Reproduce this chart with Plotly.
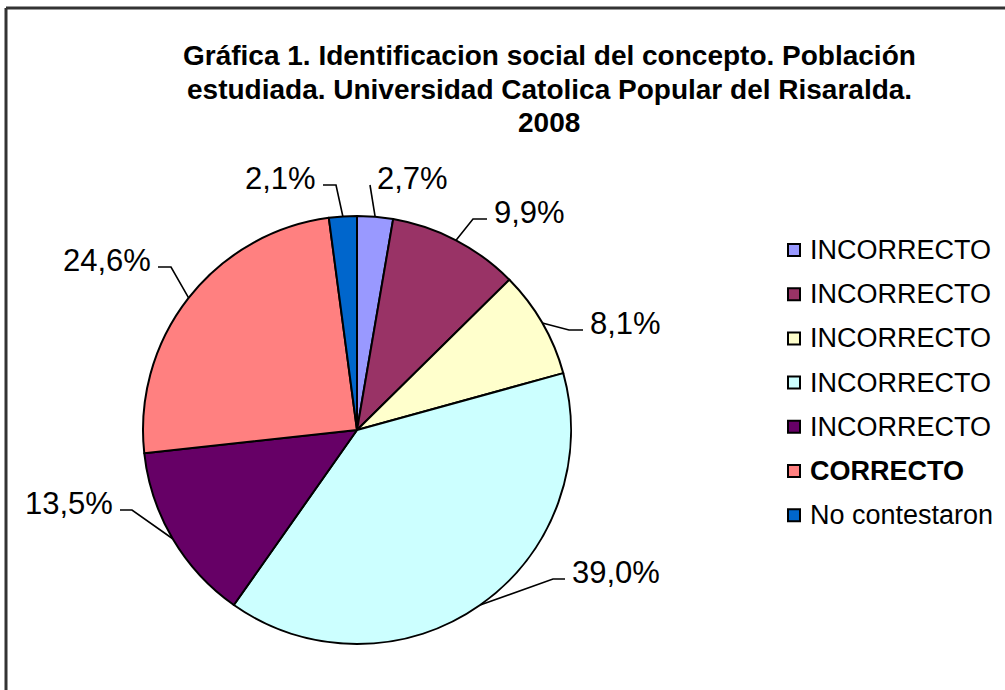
import math
import plotly.graph_objects as go

# Datos
etiquetas = ["INCORRECTO", "INCORRECTO", "INCORRECTO", "INCORRECTO",
             "INCORRECTO", "CORRECTO", "No contestaron"]
valores = [2.7, 9.9, 8.1, 39.0, 13.5, 24.6, 2.1]
colores = ["#9999FF", "#993366", "#FFFFCC", "#CCFFFF", "#660066", "#FF8080", "#0066CC"]
titulo = ["Gráfica 1. Identificacion social del concepto. Población",
          "estudiada. Universidad Catolica Popular del Risaralda.",
          "2008"]

# Posicion de las etiquetas de porcentaje (px) y lado del texto
pos_etiquetas = [(375, 178, "left"), (492, 212, "left"), (588, 323, "left"),
                 (570, 572, "left"), (115, 503, "right"), (153, 260, "right"),
                 (318, 178, "right")]
cola = [0, 14, 14, 12, 12, 13, 13]

W, H = 1005, 690
CX, CY, R = 357, 430, 214
FUENTE = "Liberation Sans, Arial, sans-serif"

fig = go.Figure()

# Torta
fig.add_trace(go.Pie(
    labels=[f"{e} {i}" for i, e in enumerate(etiquetas)],
    values=valores,
    sort=False,
    direction="clockwise",
    rotation=0,
    textinfo="none",
    hoverinfo="skip",
    marker=dict(colors=colores, line=dict(color="black", width=2)),
    domain=dict(x=[(CX - R) / W, (CX + R) / W], y=[1 - (CY + R) / H, 1 - (CY - R) / H]),
    showlegend=False,
))

# Lineas guia y etiquetas
total = sum(valores)
acum = 0
lx, ly = [], []
for i, (v, (tx, ty, lado)) in enumerate(zip(valores, pos_etiquetas)):
    ang = math.radians((acum + v / 2) / total * 360)
    acum += v
    ex, ey = CX + R * math.sin(ang), CY - R * math.cos(ang)
    signo = -1 if lado == "left" else 1
    fx, fy = tx + signo * 5, ty + 7
    cx_ = fx + signo * cola[i]
    lx += [ex, cx_, fx, None]
    ly += [ey, fy, fy, None]
    fig.add_annotation(x=tx, y=ty, xref="x", yref="y", showarrow=False,
                       text=f"{v:.1f}".replace(".", ",") + "%",
                       xanchor=lado, yanchor="middle",
                       font=dict(family=FUENTE, size=31, color="black"))

fig.add_trace(go.Scatter(x=lx, y=ly, mode="lines", line=dict(color="black", width=1.6),
                         hoverinfo="skip", showlegend=False))

# Leyenda manual
ley_y = [250 + i * 44.2 for i in range(len(etiquetas))]
fig.add_trace(go.Scatter(
    x=[794] * len(etiquetas), y=ley_y, mode="markers",
    marker=dict(symbol="square", size=12, color=colores, line=dict(color="black", width=2)),
    hoverinfo="skip", showlegend=False))
for e, yy in zip(etiquetas, ley_y):
    txt = f"<b>{e}</b>" if e == "CORRECTO" else e
    fig.add_annotation(x=808, y=yy, xref="x", yref="y", showarrow=False, text=txt,
                       xanchor="left", yanchor="middle",
                       font=dict(family=FUENTE, size=27, color="black"))

# Titulo (una anotacion por linea para controlar el interlineado)
for linea, yy in zip(titulo, [55, 89, 122]):
    fig.add_annotation(x=549, y=yy, xref="x", yref="y", showarrow=False,
                       text=f"<b>{linea}</b>", xanchor="center", yanchor="middle",
                       font=dict(family=FUENTE, size=28, color="black"))

# Marco
fig.add_shape(type="line", x0=6, y0=8, x1=W, y1=8, xref="x", yref="y",
              line=dict(color="#333333", width=3))
fig.add_shape(type="line", x0=6, y0=8, x1=6, y1=H, xref="x", yref="y",
              line=dict(color="#333333", width=3))

fig.update_xaxes(range=[0, W], visible=False, fixedrange=True)
fig.update_yaxes(range=[H, 0], visible=False, fixedrange=True)
fig.update_layout(width=W, height=H, margin=dict(l=0, r=0, t=0, b=0),
                  paper_bgcolor="white", plot_bgcolor="rgba(0,0,0,0)")

fig.write_html("out.html", config={"displayModeBar": False},
               post_script="document.body.style.margin='0';")
